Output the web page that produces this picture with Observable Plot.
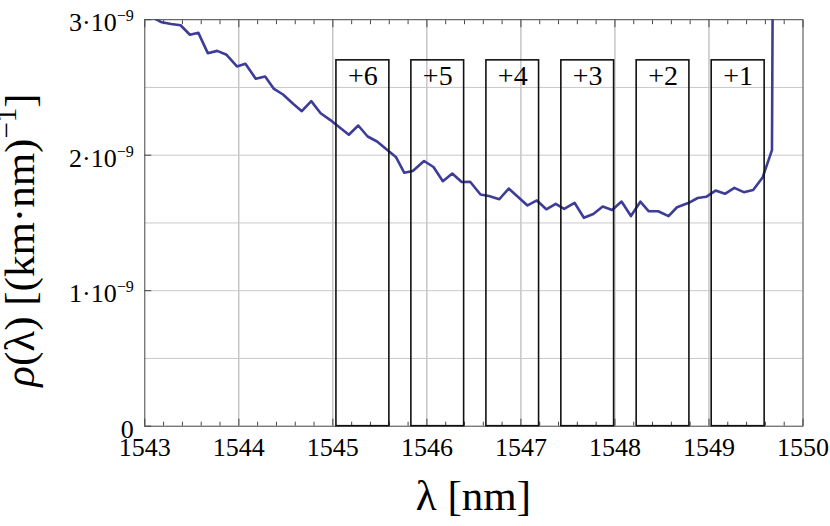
<!DOCTYPE html>
<html>
<head>
<meta charset="utf-8">
<script src="https://cdn.jsdelivr.net/npm/d3@7"></script>
<script src="https://cdn.jsdelivr.net/npm/@observablehq/plot@0.6"></script>
<style>
  html, body { margin: 0; padding: 0; background: #fff; }
  #chart svg { display: block; }
</style>
</head>
<body>
<div id="chart"></div>
<script>
// ---- data ----
const wavelength = [
  1543.08, 1543.18, 1543.28, 1543.38, 1543.48, 1543.57, 1543.67, 1543.77, 1543.87, 1543.98,
  1544.07, 1544.18, 1544.28, 1544.37, 1544.47, 1544.58, 1544.67, 1544.77, 1544.87, 1544.97,
  1545.07, 1545.17, 1545.27, 1545.37, 1545.47, 1545.57, 1545.67, 1545.76, 1545.85, 1545.97,
  1546.07, 1546.17, 1546.27, 1546.37, 1546.46, 1546.57, 1546.66, 1546.77, 1546.87, 1546.97,
  1547.07, 1547.17, 1547.27, 1547.37, 1547.46, 1547.57, 1547.67, 1547.77, 1547.87, 1547.97,
  1548.07, 1548.17, 1548.27, 1548.36, 1548.46, 1548.57, 1548.66, 1548.78, 1548.88, 1548.97,
  1549.07, 1549.17, 1549.27, 1549.37, 1549.47, 1549.57, 1549.67, 1549.77
];
// rho in units of 1e-9 (km·nm)^-1
const rho = [
  3.018, 2.981, 2.968, 2.959, 2.889, 2.903, 2.753, 2.770, 2.741, 2.655,
  2.675, 2.564, 2.581, 2.492, 2.448, 2.378, 2.325, 2.399, 2.310, 2.261,
  2.207, 2.151, 2.219, 2.138, 2.101, 2.044, 1.987, 1.870, 1.883, 1.957,
  1.913, 1.808, 1.865, 1.802, 1.804, 1.710, 1.699, 1.675, 1.754, 1.692,
  1.629, 1.666, 1.601, 1.641, 1.604, 1.649, 1.538, 1.566, 1.621, 1.596,
  1.658, 1.551, 1.657, 1.586, 1.586, 1.550, 1.616, 1.647, 1.684, 1.693,
  1.739, 1.715, 1.759, 1.727, 1.743, 1.835, 2.038, 17
];

const channelLabels = ["+6", "+5", "+4", "+3", "+2", "+1"];
const channelStart  = [1545.038, 1545.835, 1546.633, 1547.430, 1548.231, 1549.029];
const channelEnd    = [1545.601, 1546.396, 1547.193, 1547.991, 1548.792, 1549.592];
const channelTop    = 2.7;

const xTicks = [1543, 1544, 1545, 1546, 1547, 1548, 1549, 1550];
const xTickLabels = ["1543", "1544", "1545", "1546", "1547", "1548", "1549", "1550"];
const xMinorTicks = [
  1543.2, 1543.4, 1543.6, 1543.8, 1544.2, 1544.4, 1544.6, 1544.8,
  1545.2, 1545.4, 1545.6, 1545.8, 1546.2, 1546.4, 1546.6, 1546.8,
  1547.2, 1547.4, 1547.6, 1547.8, 1548.2, 1548.4, 1548.6, 1548.8,
  1549.2, 1549.4, 1549.6, 1549.8
];
const yTicks = [0, 1, 2, 3];
const yTickLabels = ["0", "1·10^−9", "2·10^−9", "3·10^−9"];
const yGrid = [0.5, 1, 1.5, 2, 2.5];
const xLabel = "λ [nm]";

// ---- build ----
const series = wavelength.map((w, i) => ({w, r: rho[i]}));
const boxes = channelLabels.map((label, i) => ({label, x1: channelStart[i], x2: channelEnd[i], top: channelTop}));

const FONT = "'Liberation Serif', 'Times New Roman', serif";
const blank = () => "";

const chart = Plot.plot({
  width: 830,
  height: 526,
  marginLeft: 144.3,
  marginRight: 27.5,
  marginTop: 19.2,
  marginBottom: 100.3,
  style: {fontFamily: FONT, background: "#fff", color: "#000", overflow: "visible"},
  x: {domain: [1543, 1550], label: null},
  y: {domain: [0, 3], label: null},
  marks: [
    Plot.gridX(xTicks.slice(1, -1), {stroke: "#a9a9a9", strokeOpacity: 1, strokeWidth: 1}),
    Plot.gridY(yGrid, {stroke: "#c8c8c8", strokeOpacity: 1, strokeWidth: 1}),
    // frame ticks (pointing inward)
    Plot.axisX(xMinorTicks, {anchor: "bottom", tickSize: -4, tickFormat: blank, label: null, stroke: "#444"}),
    Plot.axisX(xMinorTicks, {anchor: "top", tickSize: -4, tickFormat: blank, label: null, stroke: "#444"}),
    Plot.axisX(xTicks, {anchor: "top", tickSize: -7, tickFormat: blank, label: null, stroke: "#444"}),
    Plot.axisX(xTicks, {anchor: "bottom", tickSize: -7, tickFormat: blank, label: null, stroke: "#444"}),
    Plot.axisY(yTicks, {anchor: "left", tickSize: -7, tickFormat: blank, label: null, stroke: "#444"}),
    // labelled axes
    Plot.axisX(xTicks, {anchor: "bottom", tickSize: 0, tickPadding: 11.3, fontSize: 26,
      tickFormat: d => xTickLabels[xTicks.indexOf(d)], label: null}),
    Plot.axisY(yTicks, {anchor: "left", tickSize: 0, tickPadding: 11, fontSize: 26, dy: 3,
      tickFormat: d => yTickLabels[yTicks.indexOf(d)], label: null}),
    Plot.frame({stroke: "#444", strokeWidth: 1}),
    Plot.line(series, {x: "w", y: "r", stroke: "#3d3d99", strokeWidth: 2.6, clip: true}),
    Plot.rect(boxes, {x1: "x1", x2: "x2", y1: 0, y2: "top", stroke: "#111", strokeWidth: 1.6, fill: "none"}),
    Plot.text(boxes, {x: d => (d.x1 + d.x2) / 2, y: "top", text: "label", dy: 16, fontSize: 28,
      lineAnchor: "middle", fill: "#000"})
  ]
});

document.getElementById("chart").appendChild(chart);

// superscript handling for tick labels written as "a^b"
d3.select(chart).selectAll("text").each(function () {
  const t = this.textContent;
  if (!t.includes("^")) return;
  const [base, sup] = t.split("^");
  const sel = d3.select(this);
  sel.text(null);
  sel.append("tspan").text(base);
  sel.append("tspan").attr("dy", "-0.6em").attr("font-size", "0.62em").text(sup);
});

// axis titles
const svg = d3.select(chart);
svg.append("text")
  .attr("x", (144.3 + 802.5) / 2)
  .attr("y", 510)
  .attr("text-anchor", "middle")
  .attr("font-family", FONT)
  .attr("font-size", 43)
  .attr("fill", "#000")
  .text(xLabel);

const yl = svg.append("text")
  .attr("transform", "translate(34,240) rotate(-90)")
  .attr("text-anchor", "middle")
  .attr("font-family", FONT)
  .attr("font-size", 43)
  .attr("fill", "#000");
yl.append("tspan").attr("font-style", "italic").text("ρ");
yl.append("tspan").text("(λ) [(km·nm)");
yl.append("tspan").attr("dy", -18).attr("font-size", 29).text("−1");
yl.append("tspan").attr("dy", 18).text("]");
</script>
</body>
</html>
